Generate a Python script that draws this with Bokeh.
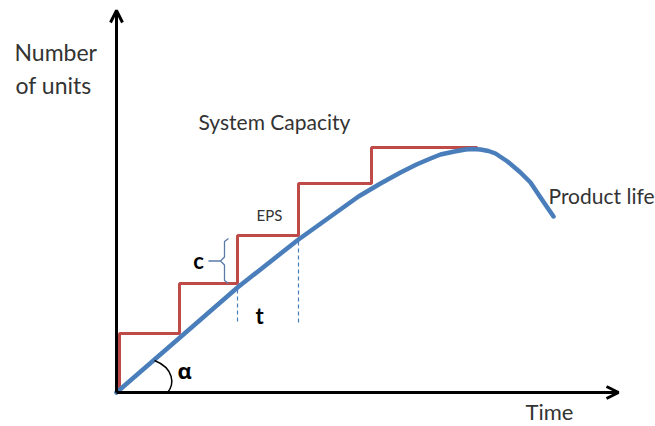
from bokeh.plotting import figure
from bokeh.models import Range1d, Arrow, OpenHead
from bokeh.core.properties import value
from bokeh.embed import file_html
from bokeh.resources import INLINE

# System capacity: times of capacity additions and capacity level after each
step_times = [3, 63, 121, 182, 255]
capacity_levels = [59, 109, 157, 209, 245]
capacity_end_time = 361

# Product life curve (time, units)
life_t = [0, 60, 121, 182, 242, 264, 284, 300, 314, 324, 338, 349, 356, 364, 372, 379, 391, 404, 414, 424, 437]
life_u = [0, 52, 105, 153, 196, 209, 220, 228, 234, 238, 241, 243, 243.5, 243, 241.5, 239, 231, 220, 210, 195, 176]

# Axis extents
time_axis_end = 502
units_axis_end = 382

FONT = "Lato"
TXT = "#333333"
BLUE = "#4a7ebb"
RED = "#be4b48"

p = figure(width=655, height=426, output_backend="svg", toolbar_location=None,
           x_range=Range1d(-116, 539), y_range=Range1d(-34, 392), min_border=0)
p.axis.visible = False
p.grid.visible = False
p.outline_line_color = None
p.background_fill_color = "white"

# capacity step path
sx, sy = [step_times[0]], [0]
for i, (t, lv) in enumerate(zip(step_times, capacity_levels)):
    nxt = step_times[i + 1] if i + 1 < len(step_times) else capacity_end_time
    sx += [t, nxt]
    sy += [lv, lv]
p.line(sx, sy, line_color=RED, line_width=3)

# product life
p.line(life_t, life_u, line_color=BLUE, line_width=4.5, line_join="round", line_cap="round")

# dashed markers under two step corners
dash_bottom = 70
for t in step_times[2:4]:
    u = life_u[life_t.index(t)]
    p.line([t, t], [u - 2, dash_bottom], line_color=BLUE, line_width=1.2, line_dash="4 3")

# brace "c"
bx = 108
lo, hi = capacity_levels[1] + 1, capacity_levels[2] - 4
mid = (lo + hi) / 2
p.line([bx + 4, bx, bx, bx - 4, bx, bx, bx + 4],
       [lo - 1, lo + 2, mid - 4, mid, mid + 4, hi - 2, hi + 1],
       line_color="#5a7aa8", line_width=1.3)
p.line([bx - 16, bx - 4], [mid, mid], line_color="#5a7aa8", line_width=1.3)

# alpha arc
p.bezier(x0=[38], y0=[32], x1=[51], y1=[0], cx0=[58], cy0=[24], cx1=[58], cy1=[8],
         line_color="black", line_width=1.5)

# axes with arrows
p.add_layout(Arrow(end=OpenHead(size=12, line_width=3, line_color="black"),
                   x_start=0, y_start=0, x_end=time_axis_end, y_end=0,
                   line_width=3, line_color="black"))
p.add_layout(Arrow(end=OpenHead(size=12, line_width=3, line_color="black"),
                   x_start=0, y_start=0, x_end=0, y_end=units_axis_end,
                   line_width=3, line_color="black"))

def label(x, y, s, size, bold=False, font=FONT, align="left"):
    p.text(x=[x], y=[y + 0.35 * size], text=[s], text_font=value(font), text_font_size=f"{size}px",
           text_font_style="bold" if bold else "normal", text_color=TXT if not bold else "black",
           text_align=align, text_baseline="alphabetic")

label(-102, 332, "Number", 23)
label(-101, 299, "of units", 23)
label(82, 264, "System Capacity", 21)
label(140, 172, "EPS", 15)
label(82, 124, "c", 22, bold=True, align="center")
label(143, 69, "t", 22, bold=True, align="center")
label(61, 15, "α", 22, bold=True, font="Open Sans")
label(432, 190, "Product life", 21)
label(409, -27, "Time", 22)

open("out.html", "w").write(file_html(p, INLINE))
